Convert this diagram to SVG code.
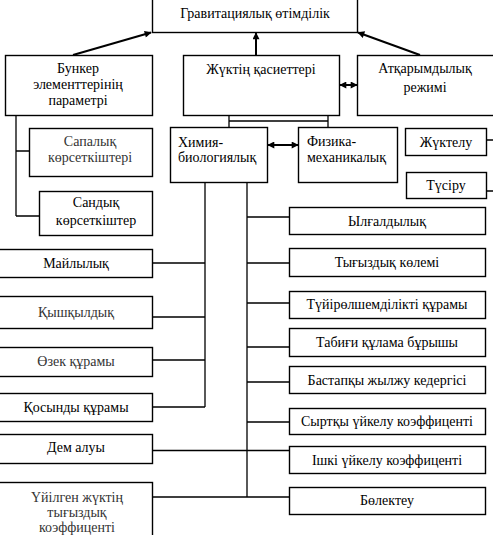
<svg xmlns="http://www.w3.org/2000/svg" width="493" height="535" viewBox="0 0 493 535">
<style>
.b{fill:#fff;stroke:#000;stroke-width:1.4}
.t{font-family:"Liberation Serif","Times New Roman",serif;font-size:14px;fill:#000;text-anchor:middle}
.l{text-anchor:start}
.g{fill:#333}
.c{fill:none;stroke:#000;stroke-width:1.3}
.a{fill:none;stroke:#000;stroke-width:2}
</style>
<defs>
<marker id="ah" viewBox="0 0 10 10" refX="9" refY="5" markerWidth="9" markerHeight="7" markerUnits="userSpaceOnUse" orient="auto-start-reverse">
<path d="M0,0 L10,5 L0,10 z" fill="#000"/>
</marker>
</defs>
<rect width="493" height="535" fill="#fff"/>
<g id="connectors">
<line class="a" x1="73" y1="55" x2="151" y2="32.5" marker-end="url(#ah)"/>
<line class="a" x1="420" y1="55" x2="358" y2="32.5" marker-end="url(#ah)"/>
<line class="a" x1="256" y1="55" x2="256" y2="33" marker-end="url(#ah)"/>
<line class="a" x1="340" y1="85" x2="357" y2="85" marker-start="url(#ah)" marker-end="url(#ah)"/>
<line class="a" x1="268" y1="145" x2="298" y2="145" marker-start="url(#ah)" marker-end="url(#ah)"/>
<path class="c" d="M229,115.5 V127.5 M328,115.5 V127.5 M229,121 H328"/>
<path class="c" d="M16,115.5 V216 M16,151 H29.5 M16,216 H39.5"/>
<path class="c" d="M205,182.5 V407 M152.5,263 H205 M152.5,317 H205 M152.5,360 H205 M152.5,407 H205"/>
<path class="c" d="M247,182.5 V497 M247,217 H289.5 M247,263 H289.5 M247,303 H289.5 M247,347 H289.5 M247,382 H289.5 M247,422 H289.5 M152.5,450.5 H289.5 M152.5,497 H289.5"/>
<path class="c" d="M486.5,140 H493 M486.5,191 H493"/>
</g>
<g id="n-grav"><rect class="b" x="152.5" y="-1" width="205" height="33.5"/><text class="t" x="255" y="18">Гравитациялық өтімділік</text></g>
<g id="n-bunker"><rect class="b" x="5.5" y="55.5" width="147" height="60"/><text class="t" x="78" y="73">Бункер</text><text class="t" x="78" y="89">элементтерінің</text><text class="t" x="78" y="105">параметрі</text></g>
<g id="n-zhuk"><rect class="b" x="183.5" y="55.5" width="156" height="60"/><text class="t" x="261" y="74">Жүктің қасиеттері</text></g>
<g id="n-atqar"><rect class="b" x="357.5" y="55.5" width="140" height="60"/><text class="t" x="425" y="73">Атқарымдылық</text><text class="t" x="425" y="92">режимі</text></g>
<g id="n-sapa"><rect class="b" x="29.5" y="128.5" width="123" height="48"/><text class="t g" x="90" y="146">Сапалық</text><text class="t g" x="90" y="162">көрсеткіштері</text></g>
<g id="n-sandyq"><rect class="b" x="39.5" y="191.5" width="113" height="44"/><text class="t" x="96" y="207">Сандық</text><text class="t" x="96" y="225">көрсеткіштер</text></g>
<g id="n-ximia"><rect class="b" x="170.5" y="127.5" width="97" height="55"/><text class="t l" x="178" y="147">Химия-</text><text class="t l" x="178" y="162">биологиялық</text></g>
<g id="n-fizika"><rect class="b" x="298.5" y="127.5" width="99" height="55"/><text class="t l" x="307" y="146">Физика-</text><text class="t l" x="307" y="162">механикалық</text></g>
<g id="n-zhuktelu"><rect class="b" x="405.5" y="128.5" width="81" height="27"/><text class="t" x="446" y="147">Жүктелу</text></g>
<g id="n-tusiru"><rect class="b" x="406.5" y="172.5" width="80" height="26"/><text class="t" x="446" y="190">Түсіру</text></g>
<g id="n-ylgal"><rect class="b" x="289.5" y="207.5" width="196" height="27"/><text class="t" x="387" y="226">Ылғалдылық</text></g>
<g id="n-tygyz"><rect class="b" x="289.5" y="248.5" width="196" height="28"/><text class="t" x="387" y="267">Тығыздық көлемі</text></g>
<g id="n-tuiir"><rect class="b" x="289.5" y="291.5" width="196" height="27"/><text class="t" x="387" y="309">Түйірөлшемділікті құрамы</text></g>
<g id="n-tabigi"><rect class="b" x="289.5" y="328.5" width="196" height="28"/><text class="t" x="387" y="347">Табиғи құлама бұрышы</text></g>
<g id="n-bastap"><rect class="b" x="289.5" y="366.5" width="196" height="27"/><text class="t" x="387" y="385">Бастапқы жылжу кедергісі</text></g>
<g id="n-syrtqy"><rect class="b" x="289.5" y="408.5" width="196" height="26"/><text class="t" x="387" y="426">Сыртқы үйкелу коэффиценті</text></g>
<g id="n-ishki"><rect class="b" x="289.5" y="446.5" width="196" height="27"/><text class="t" x="387" y="465">Ішкі үйкелу коэффиценті</text></g>
<g id="n-bolek"><rect class="b" x="289.5" y="487.5" width="196" height="27"/><text class="t" x="387" y="505">Бөлектеу</text></g>
<g id="n-mai"><rect class="b" x="-1" y="249.5" width="153.5" height="28"/><text class="t" x="76" y="268">Майлылық</text></g>
<g id="n-qysh"><rect class="b" x="-1" y="296.5" width="153.5" height="32"/><text class="t g" x="76" y="317">Қышқылдық</text></g>
<g id="n-ozek"><rect class="b" x="-1" y="347.5" width="153.5" height="29"/><text class="t g" x="76" y="366">Өзек құрамы</text></g>
<g id="n-qosyn"><rect class="b" x="-1" y="393.5" width="153.5" height="28"/><text class="t" x="76" y="412">Қосынды құрамы</text></g>
<g id="n-dem"><rect class="b" x="-1" y="434.5" width="153.5" height="29"/><text class="t" x="76" y="452">Дем алуы</text></g>
<g id="n-uiil"><rect class="b" x="-1" y="482.5" width="153.5" height="60"/><text class="t g" x="77" y="502">Үйілген жүктің</text><text class="t g" x="77" y="517">тығыздық</text><text class="t g" x="77" y="532">коэффиценті</text></g>
</svg>
